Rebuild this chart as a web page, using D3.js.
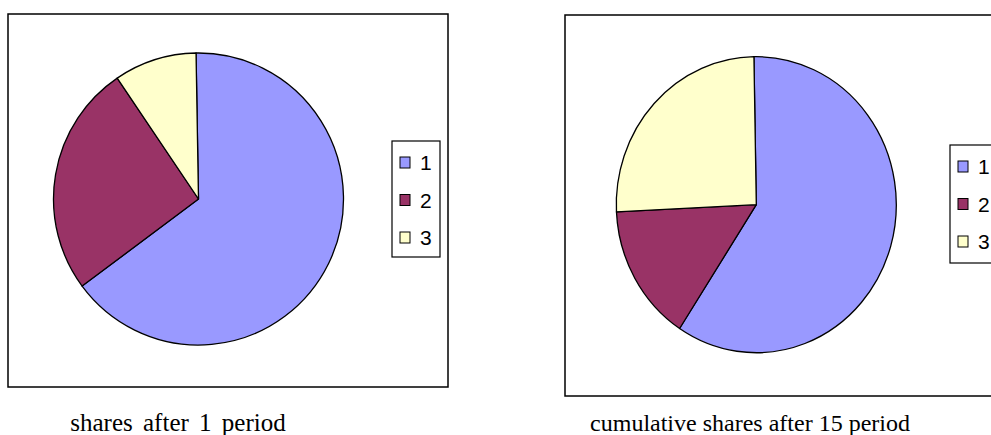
<!DOCTYPE html>
<html lang="en">
<head>
  <meta charset="UTF-8">
  <title>shares pies</title>
  <style>
    body { margin: 0; background: #fff; }
    svg { display: block; }
    .legend text { font: 21px "Liberation Sans", Arial, sans-serif; fill: #000; }
    .caption { font-family: "Liberation Serif", "Times New Roman", serif; fill: #000; }
  </style>
</head>
<body>
  <div id="chart"></div>
  <script src="https://d3js.org/d3.v7.min.js"></script>
  <script>
    // series names and slice shares
    const categories = ['1', '2', '3'];
    const sharesAfter1 = [0.651, 0.257, 0.092];
    const cumulativeShares15 = [0.595, 0.150, 0.255];
    const colors = ['#9999ff', '#993366', '#ffffcc'];

    const W = 991, H = 435;

    const svg = d3.select('#chart').append('svg')
      .attr('width', W)
      .attr('height', H);

    const color = d3.scaleOrdinal().domain(categories).range(colors);

    // panel layout
    const panels = [
      {
        values: sharesAfter1,
        frame: { x: 8, y: 14, w: 440, h: 373 },
        cx: 198.5, cy: 199, rx: 145, ry: 146,
        legend: { x: 392, y: 141, w: 48, h: 116 },
        caption: 'shares after 1 period', capX: 178, capSize: 25, wordSpacing: 4
      },
      {
        values: cumulativeShares15,
        frame: { x: 565, y: 15, w: 440, h: 381 },
        cx: 756.3, cy: 204.7, rx: 140, ry: 148,
        legend: { x: 950, y: 145, w: 60, h: 118 },
        caption: 'cumulative shares after 15 period', capX: 750, capSize: 24, wordSpacing: 0
      }
    ];

    const pie = d3.pie()
      .sort(null)
      .value(d => d.value)
      .startAngle(-0.017)
      .endAngle(2 * Math.PI - 0.017);

    panels.forEach(p => {
      const g = svg.append('g');

      g.append('rect')
        .attr('x', p.frame.x)
        .attr('y', p.frame.y)
        .attr('width', p.frame.w)
        .attr('height', p.frame.h)
        .attr('fill', '#fff')
        .attr('stroke', '#000')
        .attr('stroke-width', 1.5);

      const arc = d3.arc().innerRadius(0).outerRadius(p.rx);
      const data = categories.map((c, i) => ({ key: c, value: p.values[i] }));

      g.append('g')
        .attr('transform', `translate(${p.cx},${p.cy}) scale(1,${p.ry / p.rx})`)
        .selectAll('path')
        .data(pie(data))
        .enter().append('path')
        .attr('d', arc)
        .attr('fill', d => color(d.data.key))
        .attr('stroke', '#000')
        .attr('stroke-width', 1.3)
        .attr('vector-effect', 'non-scaling-stroke')
        .attr('stroke-linejoin', 'round');

      // legend
      const lg = g.append('g').attr('class', 'legend');
      lg.append('rect')
        .attr('x', p.legend.x)
        .attr('y', p.legend.y)
        .attr('width', p.legend.w)
        .attr('height', p.legend.h)
        .attr('fill', '#fff')
        .attr('stroke', '#000')
        .attr('stroke-width', 1.2);

      const ly = d3.scalePoint()
        .domain(categories)
        .range([p.legend.y + 21.5, p.legend.y + 96.5]);

      const items = lg.selectAll('g.item')
        .data(categories)
        .enter().append('g')
        .attr('class', 'item')
        .attr('transform', d => `translate(${p.legend.x + 8},${ly(d)})`);

      items.append('rect')
        .attr('x', 0)
        .attr('y', -5.5)
        .attr('width', 10)
        .attr('height', 11)
        .attr('fill', d => color(d))
        .attr('stroke', '#000')
        .attr('stroke-width', 1);

      items.append('text')
        .attr('x', 20)
        .attr('y', 7.5)
        .text(d => d);

      svg.append('text')
        .attr('class', 'caption')
        .attr('x', p.capX)
        .attr('y', 431)
        .attr('text-anchor', 'middle')
        .style('font-size', p.capSize + 'px')
        .style('word-spacing', p.wordSpacing + 'px')
        .text(p.caption);
    });
  </script>
</body>
</html>
